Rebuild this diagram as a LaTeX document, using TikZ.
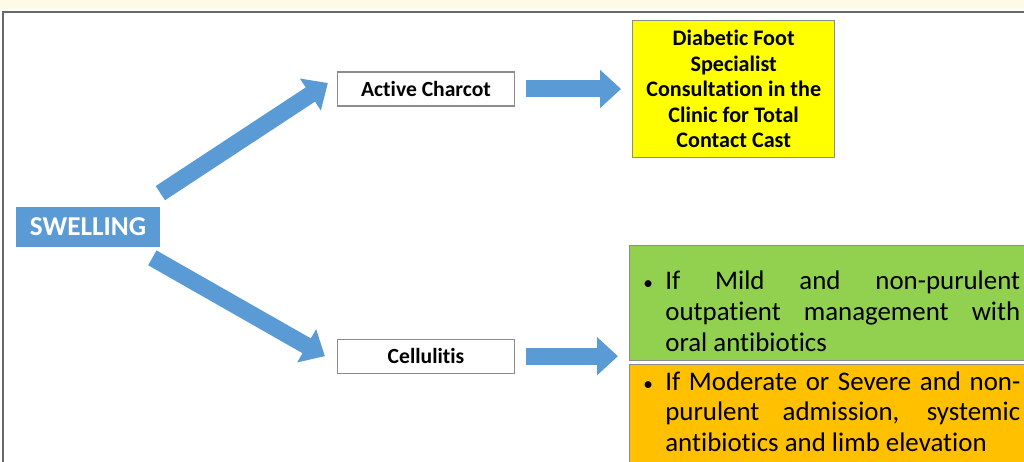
\documentclass[tikz,border=0pt]{standalone}
\usepackage{fontspec}
\setmainfont{Carlito}[Ligatures=NoCommon]
\usetikzlibrary{arrows.meta,positioning,calc}
\definecolor{swellBlue}{RGB}{91,155,213}
\definecolor{consultYellow}{RGB}{255,255,0}
\definecolor{mildGreen}{RGB}{146,208,80}
\definecolor{severeOrange}{RGB}{255,192,0}
\definecolor{bandCream}{RGB}{255,249,231}
\definecolor{frameGrey}{RGB}{105,105,105}
\definecolor{boxGrey}{RGB}{140,140,140}
\hyphenpenalty=10000
\tolerance=9999
\tikzset{
  swellbox/.style={fill=swellBlue, text=white, minimum width=2.88cm, minimum height=0.82cm, inner sep=0pt, font=\bfseries\fontsize{15.5}{17}\selectfont},
  labelbox/.style={draw=boxGrey, line width=0.7pt, fill=white, minimum width=3.54cm, minimum height=0.68cm, inner sep=0pt, font=\bfseries\fontsize{12.3}{14}\selectfont},
  consultbox/.style={draw=boxGrey, line width=0.7pt, fill=consultYellow, align=center, minimum width=4.04cm, minimum height=2.74cm, inner sep=0pt, font=\bfseries\fontsize{12.6}{14.5}\selectfont},
  carebox/.style={draw=boxGrey, line width=0.7pt, minimum width=8.3cm, inner sep=0pt},
  mildbox/.style={carebox, fill=mildGreen, minimum height=2.3cm},
  severebox/.style={carebox, fill=severeOrange, minimum height=2.6cm},
  caretext/.style={inner sep=0pt, anchor=base west, font=\fontsize{15.3}{17.4}\selectfont},
  blockarrow/.style={draw=swellBlue, line width=0.34cm, -{Triangle[length=0.42cm,width=0.74cm]}},
  framestyle/.style={draw=frameGrey, line width=0.03cm}
}
\newcommand{\careitem}[1]{\makebox[0.46cm][l]{\hspace{0.02cm}{\fontsize{11}{11}\selectfont\textbullet}}\parbox[t]{7.1cm}{#1}}

\begin{document}
\begin{tikzpicture}[x=0.02cm, y=-0.02cm]
  \useasboundingbox (0,0) rectangle (1024,462);
  \clip (0,0) rectangle (1024,462);
  % page band and frame
  \fill[bandCream] (0,0) rectangle (1024,9);
  \draw[framestyle] (3,470) -- (3,12) -- (1040,12);

  \node[swellbox] (swell) at (88,227) {SWELLING};
  \node[labelbox] (charcot) at (426,89) {Active Charcot};
  \node[labelbox, below=4.64cm of charcot] (cellulitis) {Cellulitis};
  \node[consultbox, right=2.34cm of charcot] (consult) {Diabetic Foot\\Specialist\\Consultation in the\\Clinic for Total\\Contact Cast};
  \node[mildbox, anchor=north west] (mild) at (629,245) {};
  \node[severebox, below=0.06cm of mild] (severe) {};
  \node[caretext] (mildText) at ($(mild.north west)+(13,45)$)
    {\careitem{If Mild and non-purulent outpatient management with oral antibiotics}};
  \node[caretext] (severeText) at ($(severe.north west)+(13,26)$)
    {\careitem{If Moderate or Severe and non-purulent admission, systemic antibiotics and limb elevation}};

  \coordinate (upTail) at ($(swell.north east)+(0,-13)$);
  \coordinate (upTip) at ($(charcot.west)+(-9,-6)$);
  \coordinate (downTail) at ($(swell.south east)+(-8,10)$);
  \coordinate (downTip) at ($(cellulitis.west)+(-12,0)$);

  \draw[blockarrow] (upTail) -- (upTip);
  \draw[blockarrow] (downTail) -- (downTip);
  \draw[blockarrow, shorten <=0.22cm, shorten >=0.22cm] (charcot) -- (consult);
  \draw[blockarrow, shorten <=0.22cm, shorten >=0.22cm] (cellulitis.east) -- (cellulitis.east -| mild.west);
\end{tikzpicture}
\end{document}
